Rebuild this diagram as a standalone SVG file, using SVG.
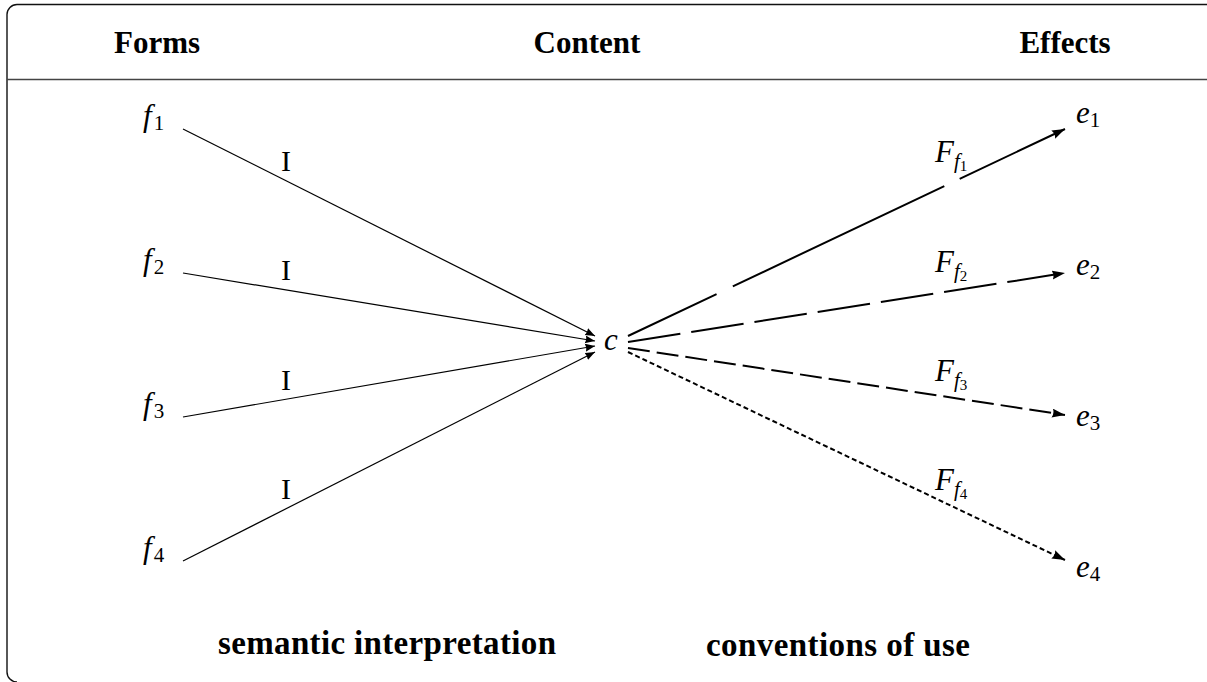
<svg xmlns="http://www.w3.org/2000/svg" width="1207" height="682" viewBox="0 0 1207 682">
<style>
  text { font-family: "Liberation Serif", "DejaVu Serif", serif; fill: #000; }
  .hdr { font-size: 31px; font-weight: bold; text-anchor: middle; }
  .ftr { font-size: 33px; font-weight: bold; text-anchor: middle; }
  .math { font-size: 31px; font-style: italic; }
  .sub { font-size: 21px; }
  .subsub { font-size: 15px; font-style: normal; }
  .rm { font-size: 30px; text-anchor: middle; }
  .thin { stroke: #000; stroke-width: 1.2; fill: none; }
  .thick { stroke: #000; stroke-width: 2; fill: none; }
</style>
<defs>
  <marker id="arrS" markerUnits="userSpaceOnUse" markerWidth="12" markerHeight="10" refX="10" refY="4" orient="auto">
    <path d="M0,0 L10,4 L0,8 Q2,4 0,0 z" fill="#000"/>
  </marker>
  <marker id="arrL" markerUnits="userSpaceOnUse" markerWidth="15" markerHeight="11" refX="13" refY="4.5" orient="auto">
    <path d="M0,0 L13,4.5 L0,9 Q2.5,4.5 0,0 z" fill="#000"/>
  </marker>
</defs>

<g id="frame">
  <path d="M1207,4.5 H17 A10,10 0 0 0 7,14.5 V672 A10,10 0 0 0 17,682" fill="none" stroke="#111" stroke-width="1.4"/>
  <line x1="7" y1="79.5" x2="1207" y2="79.5" stroke="#444" stroke-width="1.6"/>
</g>

<g id="headers">
  <text class="hdr" x="157" y="53">Forms</text>
  <text class="hdr" x="587" y="53">Content</text>
  <text class="hdr" x="1065" y="53">Effects</text>
</g>

<g id="connectors">
  <line class="thin" x1="183" y1="129" x2="595" y2="336" marker-end="url(#arrS)"/>
  <line class="thin" x1="183" y1="273" x2="595" y2="341" marker-end="url(#arrS)"/>
  <line class="thin" x1="183" y1="417" x2="595" y2="346" marker-end="url(#arrS)"/>
  <line class="thin" x1="183" y1="561" x2="595" y2="352" marker-end="url(#arrS)"/>
  <line class="thick" x1="628" y1="336" x2="1065" y2="129" stroke-dasharray="98 18 234 17 1000" marker-end="url(#arrL)"/>
  <line class="thick" x1="628" y1="342" x2="1065" y2="273" stroke-dasharray="53 11" marker-end="url(#arrL)"/>
  <line class="thick" x1="628" y1="348" x2="1065" y2="415" stroke-dasharray="22 7" marker-end="url(#arrL)"/>
  <line class="thick" x1="628" y1="352" x2="1065" y2="560" stroke-dasharray="5 3" stroke-width="1.7" marker-end="url(#arrL)"/>
</g>

<g id="labels">
  <text class="rm" x="286" y="171">I</text>
  <text class="rm" x="286" y="280">I</text>
  <text class="rm" x="286" y="390">I</text>
  <text class="rm" x="286" y="499">I</text>
  <text class="math" x="935" y="162">F<tspan class="sub" dy="6">f</tspan><tspan class="subsub" dy="3">1</tspan></text>
  <text class="math" x="935" y="272">F<tspan class="sub" dy="6">f</tspan><tspan class="subsub" dy="3">2</tspan></text>
  <text class="math" x="935" y="381">F<tspan class="sub" dy="6">f</tspan><tspan class="subsub" dy="3">3</tspan></text>
  <text class="math" x="935" y="490">F<tspan class="sub" dy="6">f</tspan><tspan class="subsub" dy="3">4</tspan></text>
</g>

<g id="f1"><text class="math" x="143" y="126">f<tspan class="sub" font-style="normal" dx="2" dy="4">1</tspan></text></g>
<g id="f2"><text class="math" x="143" y="270">f<tspan class="sub" font-style="normal" dx="2" dy="4">2</tspan></text></g>
<g id="f3"><text class="math" x="143" y="414">f<tspan class="sub" font-style="normal" dx="2" dy="4">3</tspan></text></g>
<g id="f4"><text class="math" x="143" y="558">f<tspan class="sub" font-style="normal" dx="2" dy="4">4</tspan></text></g>

<g id="c"><text class="math" x="604" y="350">c</text></g>

<g id="e1"><text class="math" x="1076" y="123">e<tspan class="sub" font-style="normal" dy="4">1</tspan></text></g>
<g id="e2"><text class="math" x="1076" y="275">e<tspan class="sub" font-style="normal" dy="4">2</tspan></text></g>
<g id="e3"><text class="math" x="1076" y="426">e<tspan class="sub" font-style="normal" dy="4">3</tspan></text></g>
<g id="e4"><text class="math" x="1076" y="577">e<tspan class="sub" font-style="normal" dy="4">4</tspan></text></g>

<g id="footers">
  <text class="ftr" x="387" y="654" textLength="338">semantic interpretation</text>
  <text class="ftr" x="838" y="656" textLength="264">conventions of use</text>
</g>
</svg>
